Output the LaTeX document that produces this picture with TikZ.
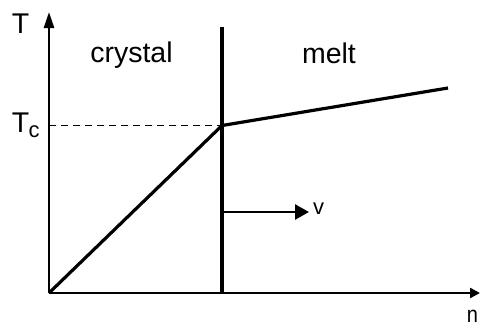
\documentclass[tikz,border=0pt]{standalone}
\usepackage{fontspec}
\setmainfont{Liberation Sans}
\usetikzlibrary{arrows.meta}
\begin{document}
\begin{tikzpicture}[x=1pt,y=-1pt,
  axis/.style={line width=2.4pt},
  thick line/.style={line width=3.2pt},
  lbl/.style={inner sep=0pt,anchor=base,font=\fontsize{28.5}{32}\selectfont},
  small lbl/.style={inner sep=0pt,anchor=base,font=\fontsize{22}{26}\selectfont}]
\useasboundingbox (0,0) rectangle (481,327);
\coordinate (O) at (49,293);
\coordinate (ytop) at (49,12);
\coordinate (xend) at (480,293);
\coordinate (wtop) at (222,27);
\coordinate (wbot) at (222,293);
\coordinate (C) at (222,125.5);
\coordinate (M) at (448,88);
\coordinate (tc0) at (49,125.5);
\coordinate (v0) at (222,212);
\coordinate (v1) at (309,212);
\draw[axis,-{Triangle[length=16pt,width=10pt]}] (O) -- (ytop);
\draw[axis,-{Triangle[length=10pt,width=10pt]}] (O) -- (xend);
\draw[thick line] (wtop) -- (wbot);
\draw[line width=1.8pt,dash pattern=on 7pt off 5pt] (tc0) -- (C);
\draw[thick line,line join=round] (O) -- (C) -- (M);
\draw[line width=2.6pt,-{Triangle[length=14pt,width=15pt]}] (v0) -- (v1);
\node[lbl] (crystal) at (131.5,62) {crystal};
\node[lbl] (melt) at (329,63) {melt};
\node[lbl] (T) at (20.5,33) {T};
\node[lbl] (Tc) at (20.5,132) {T};
\node[small lbl,anchor=base west] (c) at (28.5,137.5) {c};
\node[small lbl] (v) at (318.5,214) {v};
\node[inner sep=0pt,anchor=north,font=\fontsize{20}{24}\selectfont,yscale=1.15] (n) at (472.5,310) {n};
\end{tikzpicture}
\end{document}
